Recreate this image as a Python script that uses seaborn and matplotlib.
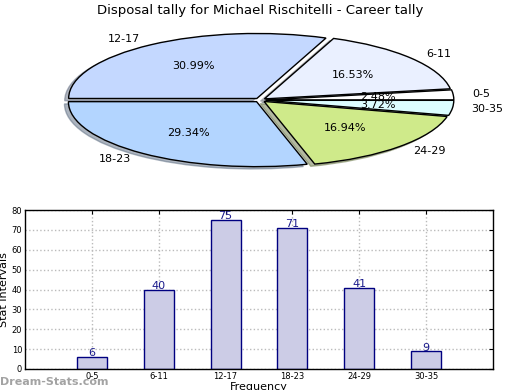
import numpy as np
import pandas as pd
import seaborn as sns
import matplotlib
matplotlib.use("Agg")
import matplotlib.pyplot as plt

sns.set_style("white")
plt.rcParams["font.family"] = ["DejaVu Sans"]
plt.rcParams.update({"text.color": "black", "axes.labelcolor": "black",
                     "xtick.color": "black", "ytick.color": "black"})

# data
intervals = ["0-5", "6-11", "12-17", "18-23", "24-29", "30-35"]
tally = [6, 40, 75, 71, 41, 9]
slice_colors = ["#ffffff", "#eaf0ff", "#c4d8ff", "#b3d5ff", "#cfea8a", "#dcfdff"]

fig = plt.figure(figsize=(5.2, 3.9), dpi=100)
fig.suptitle("Disposal tally for Michael Rischitelli - Career tally",
             fontsize=9.5, y=0.99)

# pie (squashed, exploded, with shadow)
pax = fig.add_axes([53 / 520, 0.56, 414 / 520, 143 / 390])
wedges, texts, autotexts = pax.pie(
    tally, labels=intervals, colors=slice_colors, explode=[0.03] * 6,
    autopct="%.2f%%", shadow=dict(ox=-0.015, oy=-0.025, shade=0.5),
    startangle=0, labeldistance=1.1,
    pctdistance=0.6, wedgeprops=dict(edgecolor="black", linewidth=1),
    textprops=dict(fontsize=8, color="black"),
)
pax.set_aspect("auto")
pax.set_xlim(-1.1, 1.1)
pax.set_ylim(-1.1, 1.1)
pax.axis("off")

# bars
bax = fig.add_axes([25 / 520, 21 / 390, 468 / 520, 159 / 390])
df = pd.DataFrame({"interval": intervals, "tally": tally})
sns.barplot(data=df, x="interval", y="tally", ax=bax, color="#cccce6",
            edgecolor="#000080", linewidth=1, width=0.45, saturation=1)
bax.bar_label(bax.containers[0], color="#1a1a8c", fontsize=8, padding=-1)
bax.set_xlim(-1, 6)
bax.set_ylim(0, 80)
bax.set_yticks(range(0, 81, 10))
bax.grid(True, linestyle=":", color="#bbbbbb", linewidth=1)
bax.set_axisbelow(True)
for s in bax.spines.values():
    s.set_color("black")
    s.set_linewidth(1)
bax.tick_params(labelsize=6, direction="in", right=True, top=True,
                length=3, pad=2)
bax.set_ylabel("Stat Intervals", fontsize=8, labelpad=2)
bax.set_xlabel("Frequency", fontsize=8, labelpad=1)

fig.text(0.0, 0.012, "Dream-Stats.com", fontsize=8, color="#999999",
         fontweight="bold", alpha=0.9)

fig.savefig("out.png", dpi=100)
